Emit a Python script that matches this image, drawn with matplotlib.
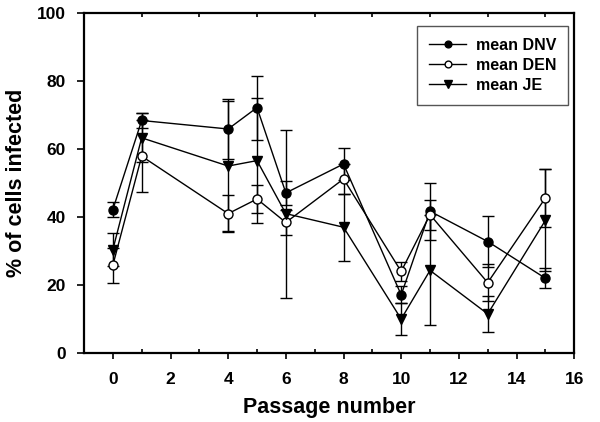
import matplotlib
matplotlib.use("Agg")
import matplotlib.pyplot as plt
from matplotlib.ticker import MultipleLocator

plt.rcParams['font.family'] = ['Liberation Sans', 'DejaVu Sans']

passage = [0, 1, 4, 5, 6, 8, 10, 11, 13, 15]
dnv_mean = [42.2, 68.4, 65.9, 72.2, 47.1, 55.6, 17.1, 41.7, 32.8, 22.0]
dnv_err = [2.2, 2.3, 8.7, 9.4, 3.5, 4.6, 2.5, 8.4, 7.6, 3.0]
den_mean = [25.8, 57.9, 41.0, 45.3, 38.4, 51.2, 24.0, 40.7, 20.7, 45.6]
den_err = [5.1, 10.6, 5.5, 4.0, 3.6, 4.3, 2.8, 4.4, 5.5, 8.4]
je_mean = [30.4, 63.3, 55.0, 56.6, 41.0, 37.0, 10.0, 24.3, 11.5, 39.0]
je_err = [4.9, 7.2, 19.0, 18.3, 24.7, 9.8, 4.7, 16.2, 5.2, 15.0]

fig = plt.figure(figsize=(6.0, 4.22), dpi=100)
ax = fig.add_axes([0.14, 0.1635, 0.817, 0.8055])

series = [
    ("mean DNV", dnv_mean, dnv_err, 'o', 'black'),
    ("mean DEN", den_mean, den_err, 'o', 'white'),
    ("mean JE", je_mean, je_err, 'v', 'black'),
]
for label, m, e, mk, fc in series:
    ax.errorbar(passage, m, yerr=e, fmt='none', ecolor='black', elinewidth=1.0,
                capsize=4.5, capthick=1.0, zorder=2)
    ax.plot(passage, m, color='black', lw=1.0, marker=mk, markersize=6.5 if mk == 'o' else 7,
            markerfacecolor=fc, markeredgecolor='black', markeredgewidth=1.0,
            label=label, zorder=3)

ax.set_xlim(-1, 16)
ax.set_ylim(0, 100)
ax.xaxis.set_major_locator(MultipleLocator(2))
ax.xaxis.set_minor_locator(MultipleLocator(1))
ax.yaxis.set_major_locator(MultipleLocator(20))

for s in ax.spines.values():
    s.set_linewidth(1.6)

ax.tick_params(axis='x', which='major', direction='out', length=4, width=1.2,
               labelsize=12.5, pad=10, top=False)
ax.tick_params(axis='x', which='minor', direction='in', length=3, width=1.2,
               top=True, bottom=True)
ax.tick_params(axis='y', which='major', direction='out', length=5, width=1.2,
               labelsize=12.5, pad=8, right=False)
for lbl in ax.get_xticklabels() + ax.get_yticklabels():
    lbl.set_fontweight('bold')

ax.set_xlabel("Passage number", fontsize=15.5, fontweight='bold', labelpad=7)
ax.set_ylabel("% of cells infected", fontsize=15.5, fontweight='bold', labelpad=7)

leg = ax.legend(loc='upper right', bbox_to_anchor=(0.9878, 0.9618), borderaxespad=0,
                fontsize=11.5, frameon=True, fancybox=False, edgecolor='#555555',
                framealpha=1, handlelength=2.3, borderpad=0.75, labelspacing=0.3,
                handletextpad=0.6, markerscale=0.75)
leg.get_frame().set_linewidth(1.0)
for t in leg.get_texts():
    t.set_fontweight('bold')

fig.savefig("out.png", dpi=100)
